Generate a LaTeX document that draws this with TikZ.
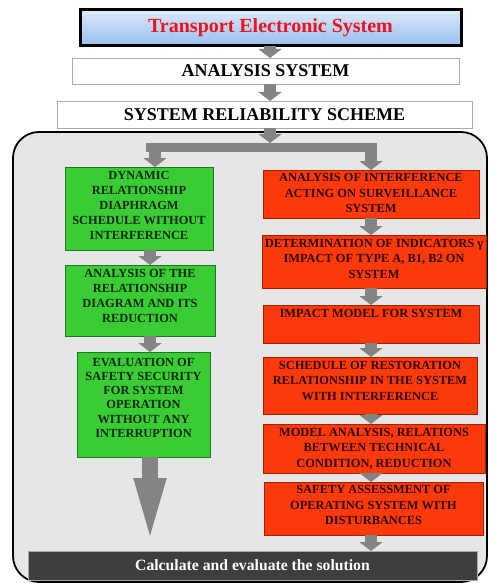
\documentclass[tikz,border=0pt]{standalone}
\usepackage{fontspec}
\setmainfont{Liberation Serif}
\usetikzlibrary{arrows.meta}

\definecolor{greenfill}{RGB}{58,204,52}
\definecolor{greenedge}{RGB}{30,120,30}
\definecolor{redfill}{RGB}{255,58,10}
\definecolor{rededge}{RGB}{170,30,0}
\definecolor{arrowgray}{RGB}{132,132,132}
\definecolor{panelgray}{RGB}{230,230,230}
\definecolor{bargray}{RGB}{62,62,62}
\definecolor{titlered}{RGB}{240,16,30}
\definecolor{skytop}{RGB}{220,233,250}
\definecolor{skybottom}{RGB}{150,190,238}
\definecolor{greentext}{RGB}{12,40,10}
\definecolor{redtext}{RGB}{45,6,0}

\begin{document}
\begin{tikzpicture}[x=1pt,y=-1pt,
  every node/.style={inner sep=0pt, outer sep=0pt},
  gbox/.style={draw=greenedge, fill=greenfill, line width=0.8pt, anchor=north west},
  rbox/.style={draw=rededge, fill=redfill, line width=0.8pt, anchor=north west},
  wbox/.style={draw=gray!65, fill=white, line width=0.9pt, anchor=north west,
    font=\fontsize{18}{20}\selectfont\bfseries},
  gtext/.style={anchor=north, align=center, text=greentext,
    font=\fontsize{12.4}{15}\selectfont\bfseries},
  rtext/.style={anchor=north, align=center, text=redtext,
    font=\fontsize{12.4}{15.5}\selectfont\bfseries},
  garrow/.style={draw=arrowgray, line width=12pt, -{Triangle[width=23pt,length=9pt]}},
  bigarrow/.style={draw=arrowgray, line width=16pt, -{Triangle[width=27pt,length=73pt]}},
  splitbar/.style={draw=arrowgray, line width=9pt, shorten <=-9pt, shorten >=-6pt}
]
\useasboundingbox (0,0) rectangle (488,583);
\fill[white] (0,0) rectangle (488,583);

% panel holding both branches
\node[draw=black, line width=1.8pt, fill=panelgray, rounded corners=26pt,
      anchor=north west, minimum width=474pt, minimum height=450pt] (panel) at (13,132) {};

% header boxes
\node[anchor=north west, draw=black, line width=3pt, top color=skytop, bottom color=skybottom,
      minimum width=381pt, minimum height=36pt, text=titlered,
      font=\fontsize{20}{22}\selectfont\bfseries] (title) at (80,10) {Transport Electronic System};
\node[wbox, minimum width=387pt, minimum height=26pt] (analysis) at (72,58) {ANALYSIS SYSTEM};
\node[wbox, minimum width=415pt, minimum height=27pt] (scheme) at (57,101) {SYSTEM RELIABILITY SCHEME};

% column guides and split points
\coordinate (lc) at (150,0);
\coordinate (rc) at (371,0);
\coordinate (sc) at (270,143);
\coordinate (sl) at (155,143);
\coordinate (sr) at (371,143);
\coordinate (slb) at (155,147.5);
\coordinate (srb) at (371,147.5);

% left branch boxes
\node[gbox, minimum width=148pt, minimum height=83pt] (g1) at (65,167) {};
\node[gbox, minimum width=150pt, minimum height=71pt] (g2) at (65,265) {};
\node[gbox, minimum width=133pt, minimum height=105pt] (g3) at (77,352) {};

% right branch boxes
\node[rbox, minimum width=216pt, minimum height=48pt] (r1) at (263,170) {};
\node[rbox, minimum width=224pt, minimum height=53pt] (r2) at (262,235) {};
\node[rbox, minimum width=216pt, minimum height=38pt] (r3) at (263,305) {};
\node[rbox, minimum width=214pt, minimum height=57pt] (r4) at (263,357) {};
\node[rbox, minimum width=222pt, minimum height=49pt] (r5) at (263,424) {};
\node[rbox, minimum width=219pt, minimum height=53pt] (r6) at (264,482) {};

% result bar
\node[anchor=north west, fill=bargray, draw=gray!70, line width=0.8pt,
      minimum width=449pt, minimum height=29pt, text=white,
      font=\fontsize{15.7}{18}\selectfont\bfseries] (bar) at (28,551) {Calculate and evaluate the solution};

% connectors
\draw[garrow] (title.south -| sc) -- (analysis.north -| sc);
\draw[garrow] (analysis.south -| sc) -- (scheme.north -| sc);
\draw[garrow] (scheme.south -| sc) -- (sc);
\draw[splitbar] (slb) -- (srb);
\draw[garrow] (sl) -- (sl |- g1.north);
\draw[garrow] (sr) -- (sr |- r1.north);
\draw[garrow] (g1.south -| lc) -- (g2.north -| lc);
\draw[garrow] (g2.south -| lc) -- (g3.north -| lc);
\draw[bigarrow] (g3.south -| lc) -- (bar.north -| lc);
\draw[garrow] (r1.south -| rc) -- (r2.north -| rc);
\draw[garrow] (r2.south -| rc) -- (r3.north -| rc);
\draw[garrow] (r3.south -| rc) -- (r4.north -| rc);
\draw[garrow] (r4.south -| rc) -- (r5.north -| rc);
\draw[garrow] (r5.south -| rc) -- (r6.north -| rc);
\draw[garrow] (r6.south -| rc) -- (bar.north -| rc);

% box texts
\node[gtext] (g1t) at ([yshift=-4pt]g1.north) {DYNAMIC\\RELATIONSHIP\\DIAPHRAGM\\SCHEDULE WITHOUT\\INTERFERENCE};
\node[gtext] (g2t) at ([yshift=-4pt]g2.north) {ANALYSIS OF THE\\RELATIONSHIP\\DIAGRAM AND ITS\\REDUCTION};
\node[gtext, font=\fontsize{12.4}{14.2}\selectfont\bfseries] (g3t) at ([yshift=-6pt]g3.north)
  {EVALUATION OF\\SAFETY SECURITY\\FOR SYSTEM\\OPERATION\\WITHOUT ANY\\INTERRUPTION};
\node[rtext] (r1t) at ([yshift=-3.5pt]r1.north) {ANALYSIS OF INTERFERENCE\\ACTING ON SURVEILLANCE\\SYSTEM};
\node[rtext] (r2t) at ([yshift=-4pt]r2.north) {DETERMINATION OF INDICATORS γ\\IMPACT OF TYPE A, B1, B2 ON\\SYSTEM};
\node[rtext] (r3t) at ([yshift=-4pt]r3.north) {IMPACT MODEL FOR SYSTEM};
\node[rtext] (r4t) at ([yshift=-4pt]r4.north) {SCHEDULE OF RESTORATION\\RELATIONSHIP IN THE SYSTEM\\WITH INTERFERENCE};
\node[rtext] (r5t) at ([yshift=-4pt]r5.north) {MODEL ANALYSIS, RELATIONS\\BETWEEN TECHNICAL\\CONDITION, REDUCTION};
\node[rtext] (r6t) at ([yshift=-3.5pt]r6.north) {SAFETY ASSESSMENT OF\\OPERATING SYSTEM WITH\\DISTURBANCES};
\end{tikzpicture}
\end{document}
